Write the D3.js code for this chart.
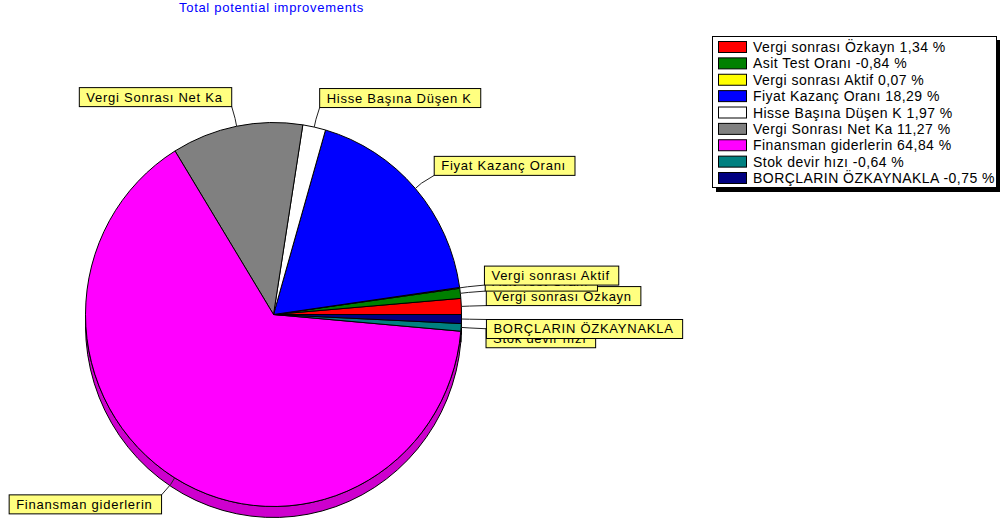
<!DOCTYPE html>
<html><head><meta charset="utf-8">
<script src="https://cdn.jsdelivr.net/npm/d3@7"></script>
<style>
body{margin:0;background:#fff;overflow:hidden}
text{font-family:Arial,"Liberation Sans",sans-serif}
</style>
</head><body>
<svg id="chart" width="1000" height="526"></svg>
<script>
const title = "Total potential improvements";
const categories = ["Vergi sonrası Özkayn","Asit Test Oranı","Vergi sonrası Aktif","Fiyat Kazanç Oranı","Hisse Başına Düşen K","Vergi Sonrası Net Ka","Finansman giderlerin","Stok devir hızı","BORÇLARIN ÖZKAYNAKLA"];
const values = [1.34,-0.84,0.07,18.29,1.97,11.27,64.84,-0.64,-0.75];
const colors = ["#ff0000","#008000","#ffff00","#0000ff","#ffffff","#808080","#ff00ff","#008080","#000080"];

const svg = d3.select("#chart");
const cx = 273.5, cy = 314.5, rx = 188, ry = 192, depth = 11;

// title
svg.append("text").attr("x",179).attr("y",12).attr("fill","#0000ff")
  .attr("font-size","13px").attr("letter-spacing","0.7px").text(title);

const pie = d3.pie().value(d=>Math.abs(d)).sort(null)
  .startAngle(Math.PI/2).endAngle(Math.PI/2 - 2*Math.PI);
const arcs = pie(values);

const pt = (t, ex=0, ey=0) => [cx + (rx+ex)*Math.sin(t), cy - (ry+ey)*Math.cos(t)];

// walls (lower half)
const wallG = svg.append("g");
const line = d3.line();
arcs.forEach((a,i)=>{
  let lo = Math.min(a.startAngle,a.endAngle), hi = Math.max(a.startAngle,a.endAngle);
  const L = Math.max(lo, -1.5*Math.PI), H = Math.min(hi, -0.5*Math.PI);
  if (H <= L) return;
  const ts = d3.range(0,41).map(k=>L + (H-L)*k/40);
  const top = ts.map(t=>pt(t));
  const bot = ts.slice().reverse().map(t=>{const p=pt(t);return [p[0],p[1]+depth];});
  wallG.append("path").attr("d", line(top.concat(bot))+"Z")
    .attr("fill", d3.color(colors[i]).darker(0.6))
    .attr("stroke","#000").attr("stroke-width",1);
});

// top face
const arcGen = d3.arc().innerRadius(0).outerRadius(rx);
const topG = svg.append("g").attr("transform",`translate(${cx},${cy}) scale(1,${ry/rx})`);
topG.selectAll("path").data(arcs).join("path")
  .attr("d", arcGen).attr("fill",(d,i)=>colors[i])
  .attr("stroke","#000").attr("stroke-width",1).attr("vector-effect","non-scaling-stroke");

// leaders and labels
const leadG = svg.append("g"), labG = svg.append("g");
arcs.forEach((a,i)=>{
  const t = (a.startAngle+a.endAngle)/2;
  const A = pt(t), E = pt(t,8,8), P = pt(t,25,20);
  leadG.append("path").attr("d", line([A,E,P])).attr("fill","none")
    .attr("stroke","#222").attr("stroke-width",1);
  const g = labG.append("g");
  const txt = g.append("text").attr("font-size","13px").attr("letter-spacing","0.75px").text(categories[i]);
  const w = txt.node().getComputedTextLength() + 16, h = 19;
  const right = Math.sin(t) >= 0, above = Math.cos(t) >= 0;
  const bx = right ? P[0] : P[0]-w;
  const by = above ? P[1]-h : P[1];
  g.insert("rect","text").attr("x",bx).attr("y",by).attr("width",w).attr("height",h)
    .attr("fill","#ffff80").attr("stroke","#000").attr("stroke-width",1);
  txt.attr("x",bx+7).attr("y",by+14).attr("fill","#000");
});

// legend
const lg = svg.append("g");
lg.append("rect").attr("x",716).attr("y",40).attr("width",290).attr("height",152).attr("fill","#000");
lg.append("rect").attr("x",712.5).attr("y",36.5).attr("width",284).attr("height",151)
  .attr("fill","#fff").attr("stroke","#000").attr("stroke-width",1);
const rowY = d3.scalePoint().domain(d3.range(categories.length)).range([47,178]);
categories.forEach((c,i)=>{
  const y = rowY(i);
  lg.append("rect").attr("x",718.5).attr("y",y-5.5).attr("width",28).attr("height",11)
    .attr("fill",colors[i]).attr("stroke","#000").attr("stroke-width",1);
  lg.append("text").attr("x",753).attr("y",y+5).attr("font-size","14px").attr("letter-spacing","0.45px")
    .attr("fill","#000").text(`${c} ${d3.format(".2f")(values[i]).replace("−","-").replace(".",",")} %`);
});
</script>
</body></html>
